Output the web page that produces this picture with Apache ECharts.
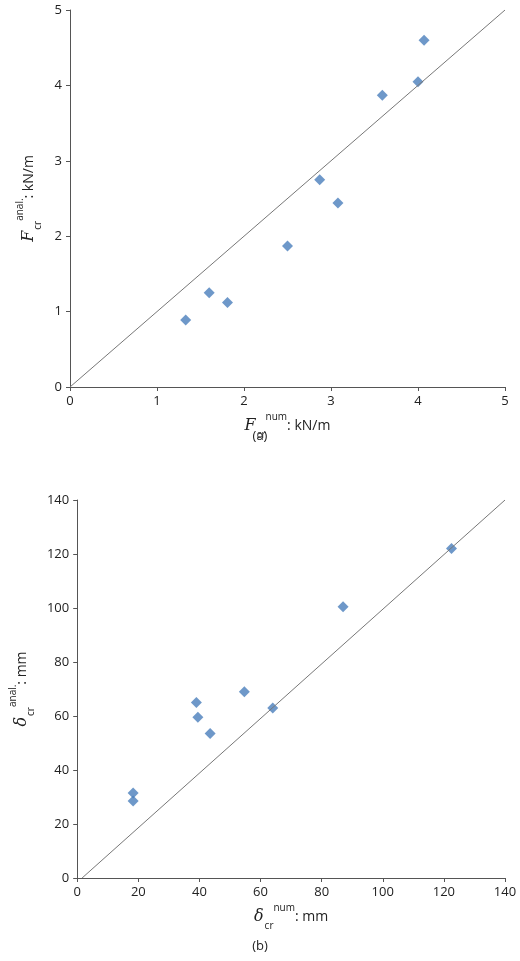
<!DOCTYPE html><html><head><meta charset="utf-8"><script src="https://cdn.jsdelivr.net/npm/echarts@6/dist/echarts.min.js"></script>
<style>html,body{margin:0;padding:0;background:#fff}#c{width:520px;height:961px}</style></head><body><div id="c"></div><script>
const aX=[1.33,1.6,1.81,2.5,2.87,3.08,3.59,4.0,4.07];
const aY=[0.89,1.25,1.12,1.87,2.75,2.44,3.87,4.05,4.6];
const bX=[18.3,18.3,39,39.5,43.5,54.7,64,87,122.5];
const bY=[31.5,28.5,65,59.5,53.5,69,63,100.5,122];
const aLine=[[0,0],[5,5]];
const bLine=[[1.6,0],[140,140]];
const font='"Open Sans", "DejaVu Sans", sans-serif';
const rich={i:{fontFamily:'DejaVu Serif',fontStyle:'italic',fontSize:16,color:'#222',lineHeight:22},
s:{fontSize:10,color:'#222',fontFamily:font,verticalAlign:'bottom',lineHeight:22,padding:[0,0,-3,1]},
p:{fontSize:10,color:'#222',fontFamily:font,verticalAlign:'top',lineHeight:22,padding:[-3,0,0,0]},
t:{fontSize:14,color:'#222',fontFamily:font,lineHeight:22}};
function ax(min,max,iv,name,gi,isY){return{type:'value',gridIndex:gi,min,max,interval:iv,name,nameLocation:'middle',nameGap:isY?30:28,nameRotate:isY?90:0,nameTextStyle:{rich},
axisLine:{show:true,lineStyle:{color:'#555'}},axisTick:{show:true,length:4,lineStyle:{color:'#555'}},splitLine:{show:false},axisLabel:{color:'#222',fontSize:13,fontFamily:font}}}
const mk={symbol:'diamond',symbolSize:11,itemStyle:{color:'#4a7ebb'}};
const ln={type:'line',symbol:'none',lineStyle:{color:'#777',width:1},silent:true};
const c=echarts.init(document.getElementById('c'));
c.setOption({animation:false,
title:[{text:'(a)',left:'center',top:425,textStyle:{fontSize:13,fontWeight:'normal',color:'#222',fontFamily:font}},
{text:'(b)',left:'center',top:935,textStyle:{fontSize:13,fontWeight:'normal',color:'#222',fontFamily:font}}],
grid:[{left:70,right:15,top:10,height:377},{left:70,right:15,top:500,height:378}],
xAxis:[ax(0,5,1,'{i|F}{s|cr}{p|num}{t|: kN/m}',0,false),ax(0,140,20,'{i|δ}{s|cr}{p|num}{t|: mm}',1,false)],
yAxis:[ax(0,5,1,'{i|F}{s|cr}{p|anal.}{t|: kN/m}',0,true),ax(0,140,20,'{i|δ}{s|cr}{p|anal.}{t|: mm}',1,true)],
series:[
Object.assign({},ln,{xAxisIndex:0,yAxisIndex:0,data:aLine}),
Object.assign({type:'scatter',xAxisIndex:0,yAxisIndex:0,data:aX.map((x,i)=>[x,aY[i]])},mk),
Object.assign({},ln,{xAxisIndex:1,yAxisIndex:1,data:bLine}),
Object.assign({type:'scatter',xAxisIndex:1,yAxisIndex:1,data:bX.map((x,i)=>[x,bY[i]])},mk)]});
</script></body></html>
